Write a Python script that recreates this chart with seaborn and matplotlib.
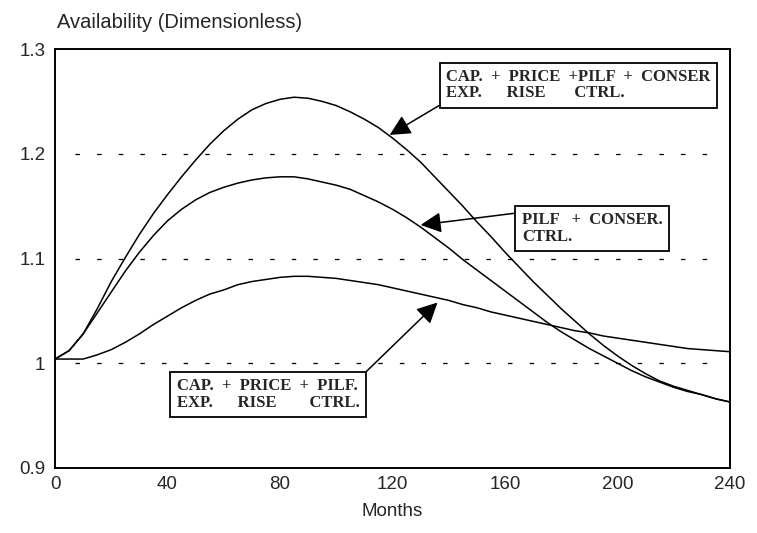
import pandas as pd
import matplotlib
matplotlib.use("Agg")
import matplotlib.pyplot as plt
import seaborn as sns

# values (every 5 months)
months = list(range(0, 245, 5))

cap_price_pilf_conser = [1.004, 1.012, 1.028, 1.052, 1.078, 1.101, 1.123, 1.143, 1.161, 1.178,
                         1.194, 1.209, 1.222, 1.233, 1.242, 1.248, 1.252, 1.254, 1.253, 1.250,
                         1.246, 1.240, 1.233, 1.225, 1.215, 1.204, 1.192, 1.178, 1.164, 1.150,
                         1.135, 1.121, 1.106, 1.092, 1.078, 1.065, 1.052, 1.040, 1.028, 1.017,
                         1.007, 0.998, 0.990, 0.983, 0.978, 0.974, 0.970, 0.966, 0.963]
pilf_conser = [1.004, 1.012, 1.028, 1.048, 1.068, 1.088, 1.106, 1.122, 1.136, 1.147,
               1.156, 1.163, 1.168, 1.172, 1.175, 1.177, 1.178, 1.178, 1.176, 1.173,
               1.170, 1.166, 1.160, 1.154, 1.147, 1.139, 1.130, 1.120, 1.110, 1.099,
               1.089, 1.079, 1.069, 1.059, 1.049, 1.039, 1.030, 1.022, 1.014, 1.007,
               1.000, 0.993, 0.987, 0.982, 0.977, 0.973, 0.970, 0.966, 0.963]
cap_price_pilf = [1.004, 1.004, 1.004, 1.008, 1.013, 1.020, 1.028, 1.037, 1.045, 1.053,
                  1.060, 1.066, 1.070, 1.075, 1.078, 1.080, 1.082, 1.083, 1.083, 1.082,
                  1.081, 1.079, 1.077, 1.075, 1.072, 1.069, 1.066, 1.063, 1.060, 1.056,
                  1.053, 1.049, 1.046, 1.043, 1.040, 1.037, 1.034, 1.031, 1.029, 1.026,
                  1.024, 1.022, 1.020, 1.018, 1.016, 1.014, 1.013, 1.012, 1.011]

series_names = ["A", "B", "C"]
grid_levels = [1.0, 1.1, 1.2]
x_ticks = [0, 40, 80, 120, 160, 200, 240]
y_ticks = [0.9, 1.0, 1.1, 1.2, 1.3]
y_tick_labels = ["0.9", "1", "1.1", "1.2", "1.3"]

label_a = "CAP.  +  PRICE  +PILF  +  CONSER\nEXP.      RISE       CTRL."
label_b = "PILF   +  CONSER.\nCTRL."
label_c = "CAP.  +  PRICE  +  PILF.\nEXP.      RISE        CTRL."

df = pd.DataFrame({
    "Months": months * 3,
    "Availability": cap_price_pilf_conser + pilf_conser + cap_price_pilf,
    "run": [n for n in series_names for _ in months],
})

sns.set_style("white")
plt.rcParams["font.family"] = ["Liberation Sans", "DejaVu Sans"]

fig = plt.figure(figsize=(7.57, 5.33), dpi=100)
ax = fig.add_axes([0.0727, 0.122, 0.8916, 0.786])

sns.lineplot(data=df, x="Months", y="Availability", hue="run",
             palette=["black"] * 3, linewidth=1.1, legend=False, ax=ax)

# dashed reference levels
ax.hlines(grid_levels, 7, 236, colors="black", linestyles=(0, (3.6, 13.7)), linewidth=0.9)

ax.set_xlim(0, 240)
ax.set_ylim(0.9, 1.3)
ax.set_xticks(x_ticks)
ax.set_yticks(y_ticks)
ax.set_yticklabels(y_tick_labels)
ax.tick_params(length=0, labelsize=13.5)
ax.tick_params(axis="x", pad=6)
ax.tick_params(axis="y", pad=7)
for side in ax.spines.values():
    side.set_color("black")
    side.set_linewidth(1.4)

ax.set_xlabel("Months", fontsize=13.5, labelpad=7)
ax.set_ylabel("")
ax.text(0.003, 1.05, "Availability (Dimensionless)", transform=ax.transAxes,
        fontsize=14.5, ha="left", va="baseline")

box = dict(boxstyle="square,pad=0.38", fc="white", ec="black", lw=1.3)
txt = dict(family="Liberation Serif", fontweight="bold", fontsize=12,
           multialignment="left", ha="center", va="center", linespacing=1.05)

def arrow(corner):
    return dict(arrowstyle="-|>,head_length=0.9,head_width=0.45", color="black",
                lw=1.1, mutation_scale=14, relpos=corner, shrinkA=0, shrinkB=0)

ax.annotate(label_a, xy=(119, 1.218), xytext=(186, 1.2655), bbox=box,
            arrowprops=arrow((0, 0)), **txt)
ax.annotate(label_b, xy=(130, 1.132), xytext=(191, 1.1285), bbox=box,
            arrowprops=arrow((0, 1)), **txt)
ax.annotate(label_c, xy=(136, 1.058), xytext=(75.7, 0.970), bbox=box,
            arrowprops=arrow((1, 1)), **txt)

fig.savefig("out.png", dpi=100)
